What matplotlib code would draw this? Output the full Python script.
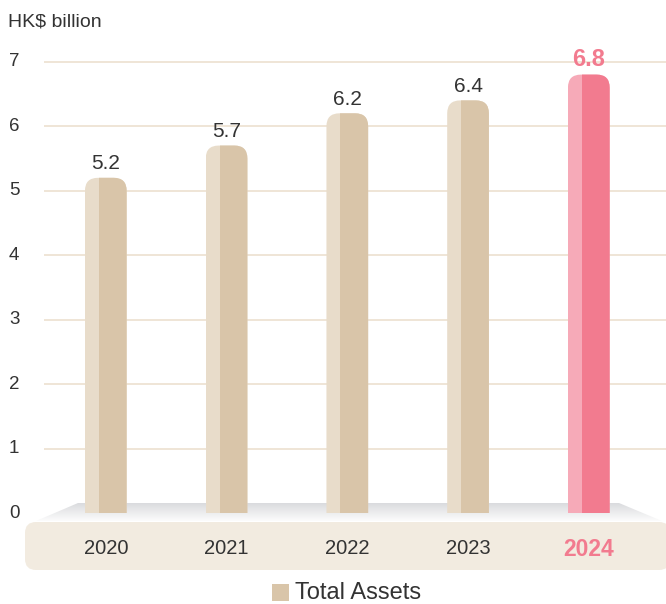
import numpy as np
import matplotlib
matplotlib.use("Agg")
from matplotlib import pyplot as plt
from matplotlib.patches import FancyBboxPatch, Rectangle, Polygon
from matplotlib.transforms import Affine2D

plt.rcParams['font.family'] = ['Liberation Sans', 'DejaVu Sans']

# data
years = ['2020', '2021', '2022', '2023', '2024']
total_assets = [5.2, 5.7, 6.2, 6.4, 6.8]
y_ticks = [0, 1, 2, 3, 4, 5, 6, 7]
unit_label = 'HK$ billion'
legend_label = 'Total Assets'

# colours
beige_light = '#E8DCCA'
beige_dark = '#D9C5A9'
pink_light = '#F6AAB8'
pink_dark = '#F27B8F'
grid_col = '#EEE3D3'
band_col = '#F2EBE0'
text_col = '#333333'

W, H = 666, 604
fig = plt.figure(figsize=(W / 100, H / 100), dpi=100)
ax = fig.add_axes([0, 0, 1, 1])
ax.set_axis_off()

# pixel layout -> data scale
x0_px, dx_px = 105.8, 120.75
y0_px, dy_px = 513.2, 64.5
ax.set_xlim(-x0_px / dx_px, (W - x0_px) / dx_px)
ax.set_ylim((y0_px - H) / dy_px, y0_px / dy_px)

def px_x(p):
    return (p - x0_px) / dx_px

def px_y(p):
    return (y0_px - p) / dy_px

# pixel transform for decorations (origin top-left)
tpx = Affine2D().scale(1 / W, -1 / H).translate(0, 1) + fig.transFigure

# gridlines
ax.hlines(y_ticks[1:], px_x(44), px_x(W), color=grid_col, lw=1.3, zorder=1)
for t in y_ticks:
    ax.text(px_x(9), t, str(t), ha='left', va='center', fontsize=13.5, color=text_col)
ax.text(8, 27, unit_label, transform=tpx, ha='left', va='baseline', fontsize=14, color=text_col)

# platform under the bars (grey gradient)
plat = Polygon([(78, 503), (619, 503), (662, 521), (36, 521)], closed=True,
               transform=tpx, facecolor='none', edgecolor='none')
ax.add_patch(plat)
grad = np.linspace(0, 1, 64).reshape(-1, 1)
img = ax.imshow(grad, cmap=matplotlib.colors.LinearSegmentedColormap.from_list('g', ['#DADBDE', '#FCFCFC']),
                extent=(px_x(30), px_x(670), px_y(521), px_y(503)), aspect='auto', zorder=1.5)
img.set_clip_path(plat)
ax.set_xlim(-x0_px / dx_px, (W - x0_px) / dx_px)
ax.set_ylim((y0_px - H) / dy_px, y0_px / dy_px)

# beige band with year labels
band = FancyBboxPatch((25, 522), 645, 48, boxstyle='round,pad=0,rounding_size=11',
                      transform=tpx, facecolor=band_col, edgecolor='none', zorder=2)
ax.add_patch(band)

# bars
bw = 41.7 / dx_px
r = 13 / dx_px
asp = dx_px / dy_px
for i, (yr, v) in enumerate(zip(years, total_assets)):
    last = i == len(years) - 1
    cl, cd = (pink_light, pink_dark) if last else (beige_light, beige_dark)
    left = i - bw / 2
    for col, cx in [(cl, left), (cd, left + bw / 3)]:
        p = FancyBboxPatch((left, -1), bw, v + 1, boxstyle=f'round,pad=0,rounding_size={r}',
                           mutation_aspect=asp, facecolor=col, edgecolor='none', zorder=3)
        ax.add_patch(p)
        clip = Rectangle((cx, 0), 10, 10, transform=ax.transData)
        p.set_clip_path(clip)
    if last:
        ax.text(i, v + 8.5 / dy_px, f'{v}', ha='center', va='baseline', fontsize=17,
                fontweight='bold', color=pink_dark)
        ax.text(i, px_y(549), yr, ha='center', va='center', fontsize=16.5,
                fontweight='bold', color=pink_dark, zorder=4)
    else:
        ax.text(i, v + 8.5 / dy_px, f'{v}', ha='center', va='baseline', fontsize=15, color=text_col)
        ax.text(i, px_y(549), yr, ha='center', va='center', fontsize=14.5, color=text_col, zorder=4)

# legend
ax.add_patch(Rectangle((272, 584), 17, 17, transform=tpx, facecolor=beige_dark, edgecolor='none'))
ax.text(295, 593, legend_label, transform=tpx, ha='left', va='center', fontsize=17, color=text_col)

fig.savefig('out.png', dpi=100)
